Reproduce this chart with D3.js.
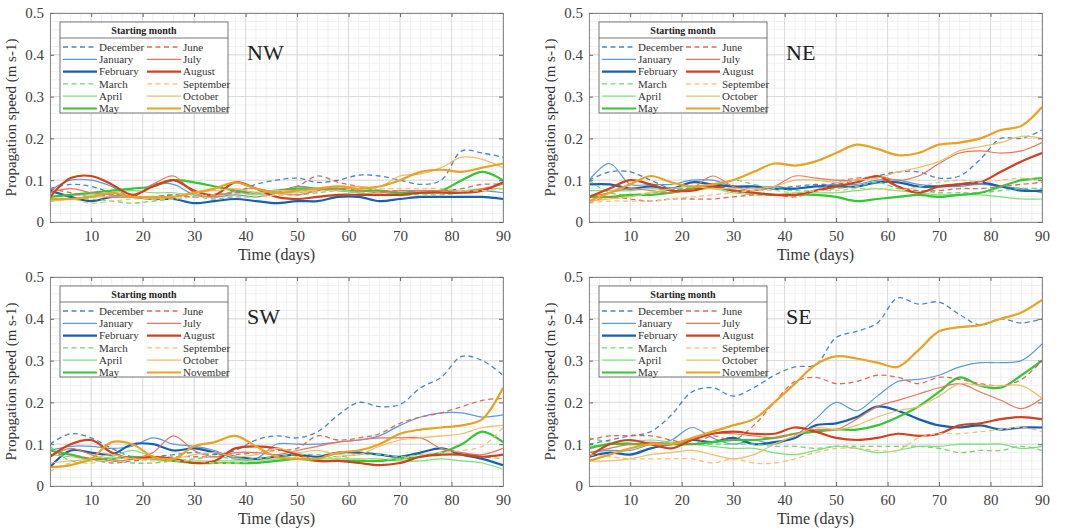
<!DOCTYPE html>
<html><head><meta charset="utf-8">
<script src="https://cdn.jsdelivr.net/npm/d3@7"></script>
<style>body{margin:0;background:#fff}svg{display:block}
svg text{font-family:"Liberation Serif","Tinos","DejaVu Serif","Noto Serif","Times New Roman",serif !important;}</style>
</head><body><svg id="c" width="1071" height="528"></svg>
<script>
// ---- data ----
const days = [2,6,10,14,18,22,26,30,34,38,42,46,50,54,58,62,66,70,74,78,82,86,90];
const months = ["December","January","February","March","April","May","June","July","August","September","October","November"];
const regions = ["NW","NE","SW","SE"];
const xTicks = [10,20,30,40,50,60,70,80,90];
const yTicks = [0,0.1,0.2,0.3,0.4,0.5];

const NW = [
 [0.08,0.09,0.085,0.07,0.06,0.06,0.065,0.06,0.065,0.07,0.09,0.1,0.105,0.095,0.1,0.112,0.11,0.1,0.09,0.1,0.17,0.165,0.155],
 [0.075,0.1,0.1,0.085,0.06,0.09,0.09,0.065,0.06,0.065,0.06,0.07,0.085,0.08,0.075,0.07,0.065,0.07,0.075,0.075,0.075,0.075,0.07],
 [0.075,0.06,0.05,0.06,0.06,0.055,0.055,0.045,0.05,0.055,0.05,0.045,0.05,0.05,0.06,0.06,0.05,0.055,0.06,0.06,0.06,0.06,0.055],
 [0.05,0.055,0.055,0.05,0.045,0.05,0.055,0.06,0.055,0.06,0.06,0.065,0.065,0.07,0.075,0.07,0.065,0.065,0.065,0.065,0.07,0.075,0.08],
 [0.06,0.065,0.065,0.07,0.075,0.07,0.07,0.065,0.065,0.07,0.065,0.07,0.07,0.075,0.075,0.07,0.065,0.07,0.07,0.075,0.075,0.08,0.08],
 [0.06,0.065,0.07,0.075,0.08,0.085,0.1,0.095,0.085,0.075,0.07,0.075,0.08,0.08,0.08,0.075,0.075,0.07,0.07,0.075,0.1,0.12,0.1],
 [0.08,0.07,0.06,0.065,0.06,0.06,0.065,0.06,0.065,0.07,0.07,0.075,0.085,0.11,0.095,0.085,0.075,0.075,0.075,0.075,0.08,0.09,0.09],
 [0.07,0.08,0.07,0.065,0.06,0.09,0.11,0.07,0.06,0.075,0.08,0.07,0.065,0.075,0.08,0.075,0.07,0.075,0.075,0.075,0.07,0.08,0.09],
 [0.06,0.105,0.11,0.09,0.065,0.085,0.1,0.075,0.065,0.095,0.08,0.06,0.055,0.06,0.065,0.065,0.065,0.065,0.07,0.07,0.07,0.075,0.095],
 [0.05,0.055,0.045,0.05,0.055,0.055,0.055,0.06,0.065,0.06,0.06,0.065,0.07,0.075,0.075,0.08,0.08,0.08,0.08,0.08,0.075,0.075,0.08],
 [0.05,0.055,0.06,0.06,0.06,0.055,0.06,0.07,0.075,0.08,0.07,0.075,0.075,0.08,0.085,0.085,0.085,0.11,0.115,0.13,0.155,0.15,0.13],
 [0.055,0.055,0.06,0.07,0.06,0.06,0.06,0.07,0.08,0.095,0.08,0.07,0.075,0.08,0.085,0.08,0.085,0.1,0.12,0.125,0.12,0.13,0.14]
];
const NE = [
 [0.1,0.12,0.12,0.1,0.08,0.08,0.085,0.085,0.08,0.08,0.085,0.09,0.09,0.1,0.11,0.12,0.12,0.105,0.11,0.15,0.2,0.2,0.22],
 [0.1,0.14,0.09,0.09,0.09,0.1,0.1,0.085,0.08,0.085,0.08,0.085,0.09,0.09,0.1,0.1,0.09,0.085,0.085,0.09,0.085,0.08,0.07],
 [0.09,0.09,0.08,0.085,0.08,0.095,0.09,0.085,0.085,0.08,0.08,0.085,0.085,0.085,0.095,0.095,0.085,0.085,0.09,0.095,0.085,0.075,0.075],
 [0.1,0.07,0.065,0.07,0.075,0.085,0.09,0.1,0.09,0.08,0.075,0.075,0.08,0.085,0.095,0.08,0.075,0.07,0.07,0.07,0.075,0.08,0.08],
 [0.075,0.075,0.075,0.08,0.075,0.075,0.08,0.07,0.065,0.065,0.07,0.07,0.07,0.075,0.08,0.075,0.07,0.065,0.065,0.065,0.06,0.055,0.055],
 [0.06,0.06,0.065,0.065,0.07,0.08,0.085,0.075,0.07,0.065,0.065,0.065,0.06,0.05,0.055,0.06,0.065,0.06,0.065,0.07,0.085,0.1,0.105],
 [0.045,0.06,0.055,0.05,0.055,0.055,0.055,0.06,0.065,0.065,0.06,0.075,0.095,0.105,0.105,0.085,0.075,0.075,0.08,0.08,0.085,0.09,0.095],
 [0.06,0.07,0.08,0.075,0.07,0.08,0.11,0.085,0.075,0.085,0.11,0.105,0.1,0.1,0.11,0.1,0.11,0.14,0.165,0.17,0.165,0.17,0.19],
 [0.06,0.08,0.1,0.09,0.075,0.075,0.085,0.075,0.07,0.065,0.065,0.075,0.085,0.095,0.11,0.085,0.07,0.085,0.09,0.095,0.12,0.145,0.165],
 [0.045,0.05,0.05,0.05,0.055,0.06,0.065,0.07,0.075,0.075,0.07,0.075,0.075,0.08,0.08,0.075,0.085,0.095,0.1,0.095,0.1,0.105,0.1],
 [0.05,0.055,0.06,0.07,0.08,0.085,0.08,0.08,0.08,0.085,0.1,0.1,0.095,0.1,0.105,0.12,0.13,0.145,0.17,0.18,0.19,0.205,0.2],
 [0.05,0.07,0.09,0.11,0.095,0.085,0.09,0.1,0.12,0.14,0.135,0.145,0.165,0.185,0.175,0.16,0.165,0.185,0.19,0.2,0.22,0.23,0.275]
];
const SW = [
 [0.1,0.125,0.115,0.09,0.07,0.07,0.075,0.08,0.075,0.085,0.11,0.12,0.115,0.13,0.17,0.2,0.19,0.195,0.235,0.26,0.31,0.3,0.265],
 [0.085,0.095,0.095,0.09,0.095,0.115,0.1,0.095,0.085,0.065,0.065,0.1,0.1,0.1,0.105,0.11,0.12,0.145,0.165,0.175,0.175,0.165,0.17],
 [0.045,0.085,0.08,0.075,0.1,0.1,0.085,0.09,0.08,0.07,0.065,0.07,0.075,0.07,0.08,0.08,0.075,0.07,0.08,0.09,0.075,0.065,0.05],
 [0.095,0.06,0.06,0.06,0.055,0.055,0.06,0.065,0.07,0.065,0.065,0.07,0.075,0.075,0.07,0.075,0.075,0.07,0.075,0.075,0.075,0.07,0.065],
 [0.075,0.07,0.065,0.07,0.085,0.07,0.065,0.06,0.06,0.06,0.06,0.065,0.065,0.065,0.065,0.065,0.065,0.06,0.06,0.065,0.06,0.055,0.04],
 [0.085,0.075,0.065,0.065,0.07,0.065,0.06,0.055,0.055,0.055,0.055,0.06,0.065,0.06,0.06,0.06,0.06,0.065,0.07,0.08,0.1,0.13,0.105],
 [0.075,0.075,0.065,0.055,0.06,0.065,0.07,0.07,0.07,0.075,0.08,0.085,0.09,0.12,0.11,0.115,0.125,0.15,0.165,0.175,0.19,0.205,0.21],
 [0.07,0.09,0.075,0.06,0.065,0.08,0.12,0.085,0.07,0.08,0.08,0.075,0.085,0.095,0.105,0.11,0.115,0.115,0.115,0.09,0.08,0.075,0.09],
 [0.07,0.1,0.11,0.08,0.065,0.07,0.065,0.055,0.06,0.09,0.095,0.09,0.075,0.06,0.06,0.055,0.05,0.055,0.07,0.075,0.075,0.07,0.075],
 [0.035,0.055,0.055,0.065,0.065,0.06,0.06,0.06,0.055,0.055,0.06,0.065,0.07,0.065,0.07,0.065,0.065,0.065,0.075,0.08,0.085,0.095,0.14],
 [0.055,0.06,0.065,0.075,0.065,0.065,0.065,0.075,0.08,0.07,0.075,0.09,0.08,0.085,0.075,0.075,0.095,0.11,0.115,0.12,0.125,0.14,0.145],
 [0.045,0.05,0.065,0.105,0.1,0.07,0.065,0.095,0.105,0.12,0.095,0.07,0.065,0.065,0.08,0.085,0.1,0.125,0.135,0.14,0.145,0.16,0.235]
];
const SE = [
 [0.1,0.11,0.12,0.13,0.17,0.225,0.235,0.215,0.235,0.265,0.285,0.29,0.355,0.37,0.39,0.45,0.435,0.44,0.41,0.385,0.4,0.39,0.4],
 [0.08,0.085,0.085,0.1,0.11,0.14,0.115,0.1,0.11,0.1,0.12,0.16,0.2,0.18,0.215,0.25,0.255,0.265,0.285,0.295,0.295,0.3,0.34],
 [0.07,0.08,0.075,0.09,0.1,0.11,0.105,0.115,0.1,0.105,0.115,0.145,0.15,0.165,0.19,0.18,0.16,0.145,0.14,0.145,0.135,0.14,0.14],
 [0.115,0.105,0.1,0.1,0.105,0.1,0.1,0.1,0.1,0.095,0.095,0.09,0.095,0.095,0.095,0.095,0.095,0.09,0.08,0.085,0.085,0.095,0.085],
 [0.095,0.1,0.105,0.11,0.105,0.1,0.095,0.09,0.09,0.08,0.075,0.085,0.095,0.09,0.08,0.085,0.095,0.095,0.1,0.1,0.1,0.09,0.095],
 [0.09,0.1,0.1,0.1,0.1,0.1,0.105,0.11,0.11,0.115,0.125,0.13,0.135,0.135,0.145,0.165,0.19,0.225,0.26,0.24,0.235,0.265,0.3],
 [0.11,0.12,0.12,0.12,0.11,0.1,0.12,0.11,0.145,0.2,0.25,0.26,0.245,0.25,0.265,0.26,0.245,0.26,0.255,0.245,0.24,0.255,0.3],
 [0.08,0.09,0.1,0.105,0.1,0.11,0.125,0.125,0.12,0.115,0.125,0.135,0.135,0.16,0.19,0.205,0.22,0.235,0.245,0.225,0.205,0.185,0.21],
 [0.07,0.1,0.11,0.1,0.09,0.11,0.125,0.13,0.125,0.125,0.14,0.13,0.115,0.11,0.115,0.125,0.12,0.125,0.145,0.15,0.16,0.165,0.16],
 [0.075,0.07,0.065,0.065,0.065,0.065,0.055,0.065,0.055,0.055,0.065,0.08,0.09,0.09,0.085,0.085,0.115,0.125,0.125,0.13,0.135,0.14,0.13],
 [0.06,0.06,0.065,0.075,0.08,0.085,0.075,0.065,0.075,0.1,0.12,0.14,0.135,0.145,0.165,0.18,0.19,0.215,0.245,0.24,0.24,0.24,0.21],
 [0.06,0.075,0.09,0.1,0.1,0.115,0.13,0.145,0.16,0.2,0.245,0.29,0.31,0.305,0.295,0.285,0.325,0.37,0.38,0.385,0.4,0.415,0.445]
];
const regionData = {NW, NE, SW, SE};

// ---- styles ----
const colors = ["#4a86c0","#5a9ad6","#1560b0","#6ad86a","#78e078","#33c833","#e06a58","#e8765a","#d2401c","#f2c27a","#f0bc68","#e8a224"];
const widths = [1.3,1.2,2.2,1.3,1.2,2.2,1.3,1.2,2.2,1.3,1.2,2.2];
const dashes = [true,false,false,true,false,false,true,false,false,true,false,false];

const svg = d3.select("#c");
const W = 453, H = 209;
const layout = [{r:"NW",x:50,y:13},{r:"NE",x:589,y:13},{r:"SW",x:50,y:277},{r:"SE",x:589,y:277}];
const font = "Liberation Serif";

layout.forEach((L,pi)=>{
  const g = svg.append("g").attr("transform",`translate(${L.x},${L.y})`);
  const x = d3.scaleLinear().domain([2,90]).range([0,W]);
  const y = d3.scaleLinear().domain([0,0.5]).range([H,0]);
  g.append("rect").attr("width",W).attr("height",H).attr("fill","#fff");
  const xm = d3.range(2,91,2), ym = d3.range(0,0.501,0.02);
  g.selectAll(".xm").data(xm).enter().append("line")
    .attr("x1",d=>x(d)).attr("x2",d=>x(d)).attr("y1",0).attr("y2",H)
    .attr("stroke","#ececec").attr("stroke-width",0.8);
  g.selectAll(".ym").data(ym).enter().append("line")
    .attr("y1",d=>y(d)).attr("y2",d=>y(d)).attr("x1",0).attr("x2",W)
    .attr("stroke","#ececec").attr("stroke-width",0.8);
  g.selectAll(".xg").data(xTicks).enter().append("line")
    .attr("x1",d=>x(d)).attr("x2",d=>x(d)).attr("y1",0).attr("y2",H)
    .attr("stroke","#d8d8d8").attr("stroke-width",0.9);
  g.selectAll(".yg").data(yTicks).enter().append("line")
    .attr("y1",d=>y(d)).attr("y2",d=>y(d)).attr("x1",0).attr("x2",W)
    .attr("stroke","#d8d8d8").attr("stroke-width",0.9);

  const clipId = "clip"+pi;
  g.append("clipPath").attr("id",clipId).append("rect").attr("width",W).attr("height",H);
  const line = d3.line().x((d,i)=>x(days[i])).y(d=>y(d)).curve(d3.curveCatmullRom.alpha(0.5));
  const data = regionData[L.r];
  const lg = g.append("g").attr("clip-path",`url(#${clipId})`);
  data.forEach((s,i)=>{
    lg.append("path").attr("d",line(s)).attr("fill","none")
      .attr("stroke",colors[i]).attr("stroke-width",widths[i])
      .attr("stroke-dasharray",dashes[i]?"5,3.5":null)
      .attr("stroke-linejoin","round");
  });

  const xa = g.append("g").attr("transform",`translate(0,${H})`)
    .call(d3.axisBottom(x).tickValues(xTicks).tickSize(-4).tickPadding(8).tickFormat(d3.format("d")));
  const xt = g.append("g").call(d3.axisTop(x).tickValues(xTicks).tickSize(-4).tickFormat(""));
  const ya = g.append("g").call(d3.axisLeft(y).tickValues(yTicks).tickSize(-4).tickPadding(6).tickFormat(d=>d===0?"0":d3.format(".1f")(d)));
  const yr = g.append("g").attr("transform",`translate(${W},0)`).call(d3.axisRight(y).tickValues(yTicks).tickSize(-4).tickFormat(""));
  [xa,xt,ya,yr].forEach(a=>{
    a.attr("font-family",font);
    a.select(".domain").attr("stroke","#8a8a8a").attr("stroke-width",1);
    a.selectAll(".tick line").attr("stroke","#6a6a6a");
    a.selectAll("text").attr("font-size",15).attr("fill","#404040");
  });

  g.append("text").attr("x",W/2).attr("y",H+38).attr("text-anchor","middle")
    .attr("font-size",16).attr("fill","#333").text("Time (days)");
  g.append("text").attr("transform",`translate(-34,${H/2}) rotate(-90)`).attr("text-anchor","middle")
    .attr("font-size",15).attr("fill","#333").text("Propagation speed (m s-1)");

  g.append("text").attr("x",197).attr("y",47).attr("font-size",22)
    .attr("fill","#222").text(L.r);

  const lgd = g.append("g").attr("transform","translate(10,9)");
  lgd.append("rect").attr("width",168).attr("height",91).attr("fill","#fff")
    .attr("stroke","#555").attr("stroke-width",0.8);
  lgd.append("line").attr("x1",0).attr("x2",168).attr("y1",16).attr("y2",16)
    .attr("stroke","#555").attr("stroke-width",0.8);
  lgd.append("text").attr("x",84).attr("y",12).attr("text-anchor","middle")
    .attr("font-size",10).attr("font-weight","bold").attr("fill","#222")
    .text("Starting month");
  months.forEach((m,i)=>{
    const col = Math.floor(i/6), row = i%6;
    const lx = col===0?3:87, ly = 25 + row*12.3;
    lgd.append("line").attr("x1",lx).attr("x2",lx+34).attr("y1",ly).attr("y2",ly)
      .attr("stroke",colors[i]).attr("stroke-width",widths[i])
      .attr("stroke-dasharray",dashes[i]?"5,3.5":null);
    lgd.append("text").attr("x",lx+36).attr("y",ly+3.8)
      .attr("font-size",11).attr("fill","#333").text(m);
  });
});
</script></body></html>
